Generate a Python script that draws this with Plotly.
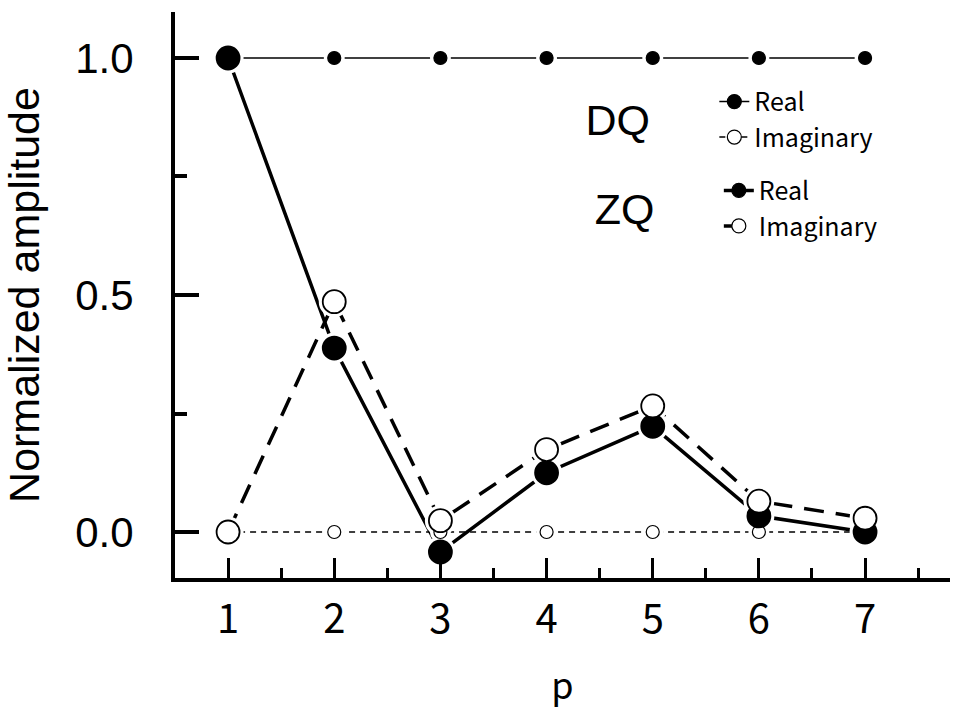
import plotly.graph_objects as go

# Pulse index
p = [1, 2, 3, 4, 5, 6, 7]

# Normalized amplitudes
dq_real = [1.0, 1.0, 1.0, 1.0, 1.0, 1.0, 1.0]
dq_imag = [0.0, 0.0, 0.0, 0.0, 0.0, 0.0, 0.0]
zq_real = [1.0, 0.388, -0.042, 0.125, 0.223, 0.034, 0.0]
zq_imag = [0.0, 0.486, 0.024, 0.174, 0.266, 0.065, 0.029]

series = [
    # name, values, legend, line width, dash, marker size, filled
    ("Real", dq_real, "legend", 1.5, "solid", 13, True),
    ("Imaginary", dq_imag, "legend", 1.5, "6px,5px", 13, False),
    ("Real", zq_real, "legend2", 3.5, "solid", 23, True),
    ("Imaginary", zq_imag, "legend2", 3.5, "20px,12px", 23, False),
]

fig = go.Figure()

# connecting lines
for name, vals, leg, lw, dash, ms, filled in series:
    fig.add_trace(go.Scatter(
        x=p, y=vals, mode="lines", showlegend=False, hoverinfo="skip",
        line=dict(color="black", width=lw, dash=dash),
    ))

# white halos so the lines stop short of the symbols
for name, vals, leg, lw, dash, ms, filled in series:
    fig.add_trace(go.Scatter(
        x=p, y=vals, mode="markers", showlegend=False, hoverinfo="skip",
        marker=dict(size=ms + 8, color="white", line=dict(width=0)),
    ))

# symbols
for name, vals, leg, lw, dash, ms, filled in series:
    fig.add_trace(go.Scatter(
        x=p, y=vals, mode="markers", showlegend=False,
        marker=dict(size=ms, color="black" if filled else "white",
                    line=dict(color="black", width=1.2 if ms < 20 else 1.8)),
    ))

# legend entries
for name, vals, leg, lw, dash, ms, filled in series:
    fig.add_trace(go.Scatter(
        x=[None], y=[None], mode="lines+markers", name=name, legend=leg,
        line=dict(color="black", width=lw, dash=dash),
        marker=dict(size=14, color="black" if filled else "white",
                    line=dict(color="black", width=1.2)),
    ))

legend_common = dict(
    bgcolor="rgba(0,0,0,0)", borderwidth=0,
    font=dict(family="Noto Sans CJK JP", size=25, color="black"),
    xanchor="left", yanchor="top", tracegroupgap=0,
)
group_font = dict(family="Liberation Sans", size=43, color="black")
pad = "\u00a0" * 4 + "\u2009"

fig.update_layout(
    width=963, height=715,
    margin=dict(l=175, r=13, t=12, b=137, autoexpand=False),
    paper_bgcolor="white", plot_bgcolor="white",
    xaxis=dict(
        range=[0.5, 7.8], showline=True, linewidth=4, linecolor="black",
        showgrid=False, zeroline=False, automargin=False,
        tickmode="linear", tick0=1, dtick=1,
        ticks="inside", ticklen=20, tickwidth=3, tickcolor="black",
        minor=dict(ticks="inside", ticklen=10, tickwidth=3, tickcolor="black",
                   dtick=0.5, tick0=0.5, showgrid=False),
        tickfont=dict(family="Noto Sans CJK JP", size=40, color="black"),
        ticklabelstandoff=3,
        title=dict(text="p", font=dict(family="Noto Sans CJK JP", size=36, color="black"),
                   standoff=31),
    ),
    yaxis=dict(
        range=[-0.097, 1.097], showline=True, linewidth=4, linecolor="black",
        showgrid=False, zeroline=False, automargin=False,
        tickmode="linear", tick0=0, dtick=0.5, tickformat=".1f",
        ticks="inside", ticklen=24, tickwidth=4, tickcolor="black",
        minor=dict(ticks="inside", ticklen=12, tickwidth=4, tickcolor="black",
                   dtick=0.25, tick0=0, showgrid=False),
        tickfont=dict(family="Liberation Sans", size=42, color="black"),
        ticklabelstandoff=29,
        title=dict(text="Normalized amplitude",
                   font=dict(family="Liberation Sans", size=43, color="black"),
                   standoff=31),
    ),
    legend=dict(
        x=0.527, y=0.882,
        title=dict(text="DQ" + pad, side="left", font=group_font),
        **legend_common,
    ),
    legend2=dict(
        x=0.539, y=0.725,
        title=dict(text="ZQ" + pad, side="left", font=group_font),
        **legend_common,
    ),
)

fig.write_html("out.html")
